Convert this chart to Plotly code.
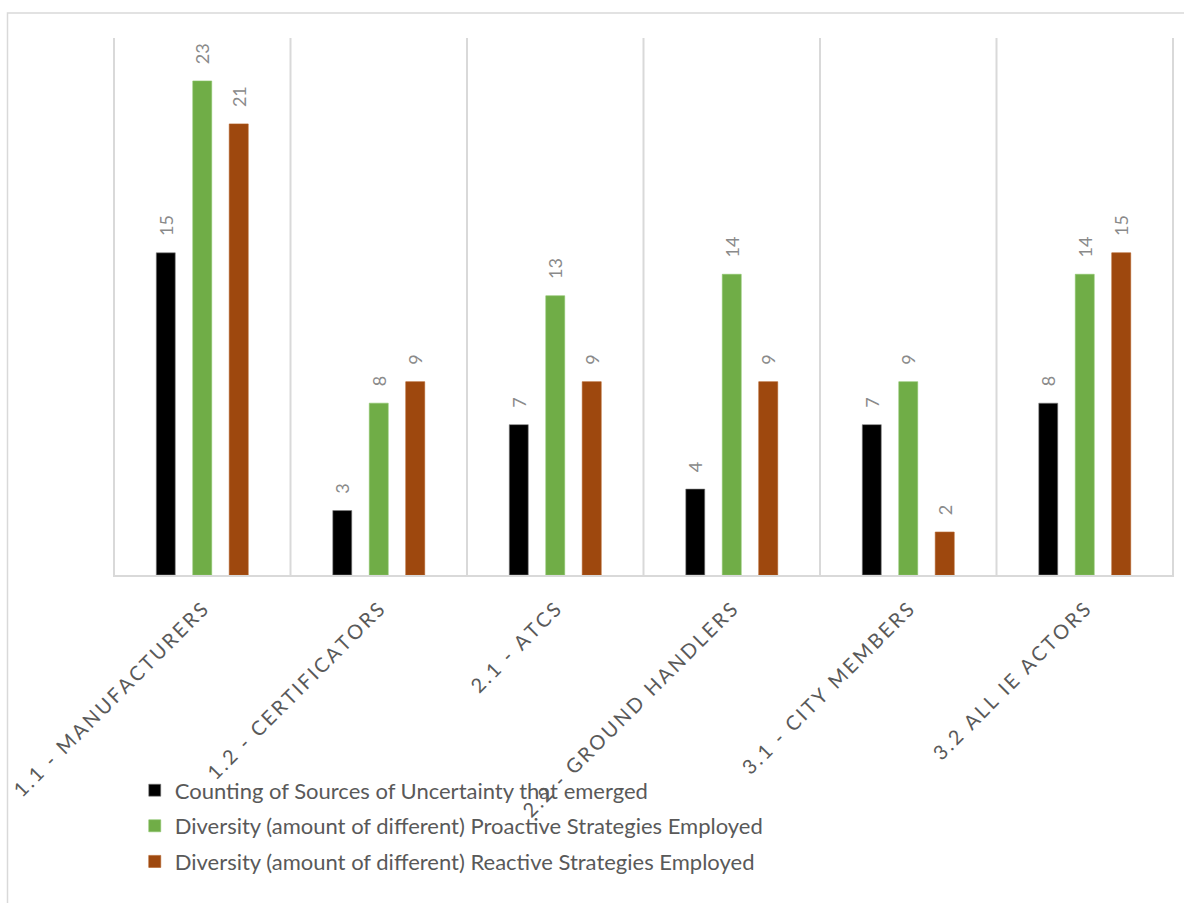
import plotly.graph_objects as go

# Actor groups shown along the x-axis
categories = [
    "1.1 - MANUFACTURERS",
    "1.2 - CERTIFICATORS",
    "2.1 - ATCS",
    "2.2 - GROUND HANDLERS",
    "3.1 - CITY MEMBERS",
    "3.2 ALL IE ACTORS",
]

series_names = [
    "Counting of Sources of Uncertainty that emerged",
    "Diversity (amount of different) Proactive Strategies Employed",
    "Diversity (amount of different) Reactive Strategies Employed",
]

uncertainty_sources = [15, 3, 7, 4, 7, 8]
proactive_strategies = [23, 8, 13, 14, 9, 14]
reactive_strategies = [21, 9, 9, 9, 2, 15]

series_values = [uncertainty_sources, proactive_strategies, reactive_strategies]
series_colors = ["#000000", "#70AD47", "#9E480E"]
series_edges = ["#7f7f7f", "#8cc46a", "#b05a20"]

FONT = "Lato"
NBSP = "\u00a0"
SPACER = "\u2009"

# spaced-out capitals for the category axis
tick_text = [SPACER.join(list(c)) for c in categories]

fig = go.Figure()
for i, (name, vals, col, edge) in enumerate(zip(series_names, series_values, series_colors, series_edges)):
    fig.add_trace(go.Bar(
        name=name,
        legendgroup=f"g{i}",
        x=categories,
        y=vals,
        marker=dict(color=col, line=dict(color=edge, width=0.6)),
        text=vals,
        texttemplate=NBSP * 3 + "%{y}",
        textposition="outside",
        textangle=-90,
        constraintext="none",
        textfont=dict(family=FONT, size=18, color="#8a8a8a"),
        cliponaxis=False,
    ))

fig.update_layout(
    width=1184,
    height=903,
    autosize=False,
    paper_bgcolor="white",
    plot_bgcolor="white",
    barmode="group",
    bargap=0.38,
    bargroupgap=0.48,
    margin=dict(l=113, r=10, t=38, b=328, pad=0, autoexpand=False),
    font=dict(family=FONT, color="#595959"),
    showlegend=True,
    legend=dict(
        x=0.0205,
        y=-0.362,
        xanchor="left",
        yanchor="top",
        orientation="v",
        bgcolor="rgba(0,0,0,0)",
        font=dict(family=FONT, size=22, color="#595959"),
        itemwidth=30,
        tracegroupgap=4,
    ),
    xaxis=dict(
        tickmode="array",
        tickvals=categories,
        ticktext=tick_text,
        tickangle=-45,
        tickfont=dict(family=FONT, size=20, color="#595959"),
        showgrid=False,
        showline=True,
        linecolor="#d9d9d9",
        linewidth=2,
        ticks="",
        ticklabelstandoff=13,
        automargin=False,
    ),
    yaxis=dict(
        range=[0, 25],
        showticklabels=False,
        showgrid=False,
        zeroline=False,
        showline=False,
        ticks="",
        automargin=False,
    ),
)

# vertical separators between category groups
for i in range(len(categories) + 1):
    fig.add_shape(
        type="line",
        xref="x", yref="paper",
        x0=i - 0.5, x1=i - 0.5, y0=0, y1=1,
        line=dict(color="#d9d9d9", width=2),
        layer="below",
    )

# outer chart frame
fig.add_shape(
    type="rect",
    xref="paper", yref="paper",
    x0=(7.5 - 113) / 1061, x1=1.05,
    y0=-0.7, y1=(575 - 13) / 537,
    line=dict(color="#d9d9d9", width=1.5),
    fillcolor="rgba(0,0,0,0)",
    layer="below",
)

fig.write_html("out.html")
